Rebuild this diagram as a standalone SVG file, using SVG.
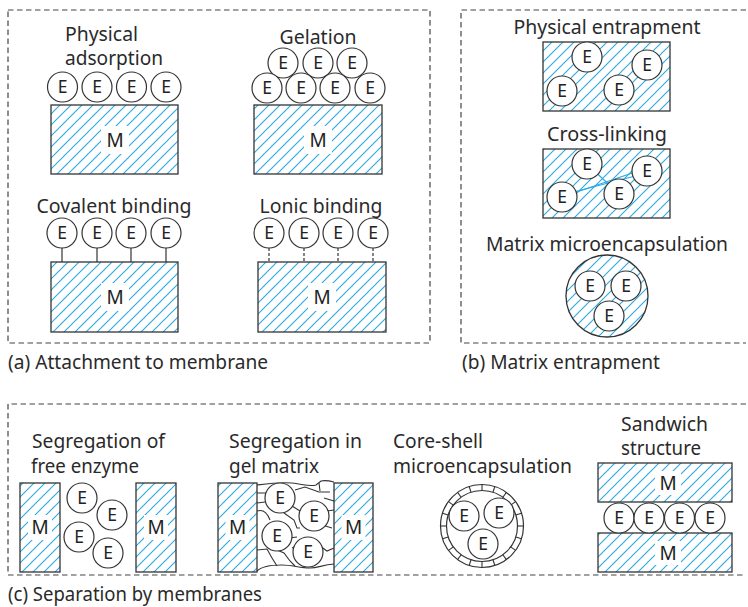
<svg xmlns="http://www.w3.org/2000/svg" width="748" height="607" viewBox="0 0 748 607">
<defs>
<pattern id="hatch" patternUnits="userSpaceOnUse" width="11" height="11">
<path d="M-2.75,2.75 L2.75,-2.75 M0,11 L11,0 M8.25,13.75 L13.75,8.25" stroke="#29aae1" stroke-width="1.1"/>
</pattern>
<g id="enz">
<circle r="15" class="ec"/>
<text y="6.3" class="e">E</text>
</g>
</defs>
<style>
.panel{fill:none;stroke:#444;stroke-width:1.2;stroke-dasharray:5.5 3.5}
.hr{fill:url(#hatch);stroke:#333;stroke-width:1.3}
.ec{fill:#fff;stroke:#333;stroke-width:1.2}
.e{font-family:"Noto Sans","Open Sans",sans-serif;font-size:17.5px;fill:#222;text-anchor:middle}
.m{font-family:"Noto Sans","Open Sans",sans-serif;font-size:19px;fill:#222;text-anchor:middle}
.lb{font-family:"Noto Sans","Open Sans",sans-serif;font-size:19px;fill:#2a2a2a}
.c{text-anchor:middle}
.mb{fill:#fff}
.link{stroke:#333;stroke-width:1.2}
.ionic{stroke:#333;stroke-width:1.2;stroke-dasharray:3 2}
.xl{stroke:#29aae1;stroke-width:1.2}
.gel{fill:none;stroke:#333;stroke-width:1.1}
</style>
<rect width="748" height="607" fill="#fff"/>

<g id="panel-a">
<rect class="panel" x="8" y="10" width="422" height="333"/>
<text class="lb" x="8" y="369" textLength="260" lengthAdjust="spacingAndGlyphs">(a) Attachment to membrane</text>
</g>
<g id="panel-b">
<path class="panel" d="M746,10 H461 V343 H746"/>
<text class="lb" x="462" y="369" textLength="198" lengthAdjust="spacingAndGlyphs">(b) Matrix entrapment</text>
</g>
<g id="panel-c">
<path class="panel" d="M746,404 H8 V575 H746"/>
<text class="lb" x="8" y="601" textLength="254" lengthAdjust="spacingAndGlyphs">(c) Separation by membranes</text>
</g>

<g id="connectors">
<line class="link" x1="62" y1="248" x2="62" y2="262"/>
<line class="link" x1="97" y1="248" x2="97" y2="262"/>
<line class="link" x1="131" y1="248" x2="131" y2="262"/>
<line class="link" x1="166" y1="248" x2="166" y2="262"/>
<line class="ionic" x1="269" y1="248" x2="269" y2="262"/>
<line class="ionic" x1="304" y1="248" x2="304" y2="262"/>
<line class="ionic" x1="338" y1="248" x2="338" y2="262"/>
<line class="ionic" x1="373" y1="248" x2="373" y2="262"/>
</g>

<g id="physical-adsorption">
<text class="lb" x="65" y="41" textLength="73" lengthAdjust="spacingAndGlyphs">Physical</text>
<text class="lb" x="65" y="65" textLength="98" lengthAdjust="spacingAndGlyphs">adsorption</text>
<rect class="hr" x="51" y="105" width="127" height="69"/>
<rect class="mb" x="101" y="126" width="28" height="28"/>
<text class="m" x="115" y="147">M</text>
<use href="#enz" x="62.5" y="87"/>
<use href="#enz" x="97" y="87"/>
<use href="#enz" x="131.5" y="87"/>
<use href="#enz" x="166" y="87"/>
</g>

<g id="gelation">
<text class="lb c" x="318" y="44" textLength="77" lengthAdjust="spacingAndGlyphs">Gelation</text>
<rect class="hr" x="254" y="105" width="128" height="69"/>
<rect class="mb" x="304" y="126" width="28" height="28"/>
<text class="m" x="318" y="147">M</text>
<use href="#enz" x="283" y="63"/>
<use href="#enz" x="318" y="63"/>
<use href="#enz" x="352" y="63"/>
<use href="#enz" x="267" y="88"/>
<use href="#enz" x="301" y="88"/>
<use href="#enz" x="335" y="88"/>
<use href="#enz" x="370" y="88"/>
</g>

<g id="covalent-binding">
<text class="lb c" x="114" y="213" textLength="155" lengthAdjust="spacingAndGlyphs">Covalent binding</text>
<rect class="hr" x="51" y="262" width="127" height="70"/>
<rect class="mb" x="101" y="283" width="28" height="28"/>
<text class="m" x="115" y="304">M</text>
<use href="#enz" x="62" y="233"/>
<use href="#enz" x="97" y="233"/>
<use href="#enz" x="131" y="233"/>
<use href="#enz" x="166" y="233"/>
</g>

<g id="ionic-binding">
<text class="lb c" x="321" y="213" textLength="123" lengthAdjust="spacingAndGlyphs">Lonic binding</text>
<rect class="hr" x="258" y="262" width="128" height="70"/>
<rect class="mb" x="308" y="283" width="28" height="28"/>
<text class="m" x="322" y="304">M</text>
<use href="#enz" x="269" y="233"/>
<use href="#enz" x="304" y="233"/>
<use href="#enz" x="338" y="233"/>
<use href="#enz" x="373" y="233"/>
</g>

<g id="physical-entrapment">
<text class="lb c" x="607" y="34" textLength="187" lengthAdjust="spacingAndGlyphs">Physical entrapment</text>
<rect class="hr" x="543" y="42" width="127" height="69"/>
<use href="#enz" x="587" y="57"/>
<use href="#enz" x="647" y="65"/>
<use href="#enz" x="562" y="91"/>
<use href="#enz" x="619" y="90"/>
</g>

<g id="cross-linking">
<text class="lb c" x="607" y="141" textLength="120" lengthAdjust="spacingAndGlyphs">Cross-linking</text>
<rect class="hr" x="543" y="149" width="127" height="69"/>
<line class="xl" x1="587" y1="164" x2="619" y2="194"/>
<line class="xl" x1="562" y1="197" x2="647" y2="168"/>
<line class="xl" x1="562" y1="195" x2="647" y2="173"/>
<use href="#enz" x="587" y="164"/>
<use href="#enz" x="647" y="171"/>
<use href="#enz" x="562" y="197"/>
<use href="#enz" x="619" y="194"/>
</g>

<g id="matrix-microencapsulation">
<text class="lb c" x="607" y="251" textLength="242" lengthAdjust="spacingAndGlyphs">Matrix microencapsulation</text>
<circle cx="607" cy="296" r="41" fill="url(#hatch)" stroke="#333" stroke-width="1.3"/>
<use href="#enz" x="590" y="286"/>
<use href="#enz" x="626" y="286"/>
<use href="#enz" x="609" y="316"/>
</g>

<g id="segregation-free-enzyme">
<text class="lb" x="32" y="448" textLength="133" lengthAdjust="spacingAndGlyphs">Segregation of</text>
<text class="lb" x="31" y="473" textLength="108" lengthAdjust="spacingAndGlyphs">free enzyme</text>
<rect class="hr" x="20" y="483" width="40" height="89"/>
<rect class="mb" x="28" y="515" width="24" height="25"/>
<text class="m" x="40" y="534">M</text>
<rect class="hr" x="136" y="483" width="40" height="89"/>
<rect class="mb" x="144" y="515" width="24" height="25"/>
<text class="m" x="156" y="534">M</text>
<use href="#enz" x="82" y="498"/>
<use href="#enz" x="112" y="515"/>
<use href="#enz" x="79" y="537"/>
<use href="#enz" x="108" y="553"/>
</g>

<g id="segregation-gel-matrix">
<text class="lb" x="229" y="448" textLength="133" lengthAdjust="spacingAndGlyphs">Segregation in</text>
<text class="lb" x="229" y="473" textLength="90" lengthAdjust="spacingAndGlyphs">gel matrix</text>
<path class="gel" d="M257,485 C265,484 280,482 292,483 C302,484 310,487 316,485 L321,481 C326,480 330,481 334,482"/>
<path class="gel" d="M257,571 C262,566 272,565 282,565 C292,565 300,568 310,568 C318,568 322,565 334,564"/>
<path class="gel" d="M257,493 L266,493 M257,503 L265,502 M257,511 C263,509 267,512 270,520 M257,550 L267,549 L272,558 L277,566 M277,550 L284,553 L290,561 L295,566 M295,490 L305,487 L319,492 L330,492 M319,483 L320,491 M324,498 L334,501 M292,506 L300,511 M284,513 L294,520 L297,528 L300,528 M289,538 L297,537 M322,525 L332,528 M320,546 L327,551 L334,548 M292,548 L299,545 M327,511 L334,510"/>
<use href="#enz" x="280" y="498"/>
<use href="#enz" x="314" y="516"/>
<use href="#enz" x="277" y="536"/>
<use href="#enz" x="308" y="552"/>
<rect class="hr" x="218" y="483" width="39" height="89"/>
<rect class="mb" x="225.5" y="515" width="24" height="25"/>
<text class="m" x="237.5" y="534">M</text>
<rect class="hr" x="334" y="483" width="39" height="89"/>
<rect class="mb" x="341.5" y="515" width="24" height="25"/>
<text class="m" x="353.5" y="534">M</text>
</g>

<g id="core-shell">
<text class="lb" x="393" y="448" textLength="90" lengthAdjust="spacingAndGlyphs">Core-shell</text>
<text class="lb" x="393" y="473" textLength="179" lengthAdjust="spacingAndGlyphs">microencapsulation</text>
<circle cx="482" cy="526" r="41.5" fill="#fff" stroke="#333" stroke-width="1.2"/>
<circle cx="482" cy="526" r="35.5" fill="#fff" stroke="#333" stroke-width="1.2"/>
<g transform="translate(482,526)" stroke="#333" stroke-width="1.1">
<line x1="35.5" y1="0" x2="41.5" y2="0"/>
<line x1="35.5" y1="0" x2="41.5" y2="0" transform="rotate(18)"/>
<line x1="35.5" y1="0" x2="41.5" y2="0" transform="rotate(36)"/>
<line x1="35.5" y1="0" x2="41.5" y2="0" transform="rotate(54)"/>
<line x1="35.5" y1="0" x2="41.5" y2="0" transform="rotate(72)"/>
<line x1="35.5" y1="0" x2="41.5" y2="0" transform="rotate(90)"/>
<line x1="35.5" y1="0" x2="41.5" y2="0" transform="rotate(108)"/>
<line x1="35.5" y1="0" x2="41.5" y2="0" transform="rotate(126)"/>
<line x1="35.5" y1="0" x2="41.5" y2="0" transform="rotate(144)"/>
<line x1="35.5" y1="0" x2="41.5" y2="0" transform="rotate(162)"/>
<line x1="35.5" y1="0" x2="41.5" y2="0" transform="rotate(180)"/>
<line x1="35.5" y1="0" x2="41.5" y2="0" transform="rotate(198)"/>
<line x1="35.5" y1="0" x2="41.5" y2="0" transform="rotate(216)"/>
<line x1="35.5" y1="0" x2="41.5" y2="0" transform="rotate(234)"/>
<line x1="35.5" y1="0" x2="41.5" y2="0" transform="rotate(252)"/>
<line x1="35.5" y1="0" x2="41.5" y2="0" transform="rotate(270)"/>
<line x1="35.5" y1="0" x2="41.5" y2="0" transform="rotate(288)"/>
<line x1="35.5" y1="0" x2="41.5" y2="0" transform="rotate(306)"/>
<line x1="35.5" y1="0" x2="41.5" y2="0" transform="rotate(324)"/>
<line x1="35.5" y1="0" x2="41.5" y2="0" transform="rotate(342)"/>
</g>
<use href="#enz" x="464" y="516"/>
<use href="#enz" x="499" y="513"/>
<use href="#enz" x="483" y="544"/>
</g>

<g id="sandwich">
<text class="lb" x="621" y="431" textLength="87" lengthAdjust="spacingAndGlyphs">Sandwich</text>
<text class="lb" x="621" y="455" textLength="80" lengthAdjust="spacingAndGlyphs">structure</text>
<rect class="hr" x="598" y="463" width="134" height="39"/>
<rect class="mb" x="655" y="471" width="26" height="24"/>
<text class="m" x="668" y="490">M</text>
<rect class="hr" x="598" y="533" width="134" height="39"/>
<rect class="mb" x="655" y="541" width="26" height="24"/>
<text class="m" x="668" y="560">M</text>
<use href="#enz" x="619" y="518"/>
<use href="#enz" x="649" y="518"/>
<use href="#enz" x="679.5" y="518"/>
<use href="#enz" x="710" y="518"/>
</g>
</svg>
